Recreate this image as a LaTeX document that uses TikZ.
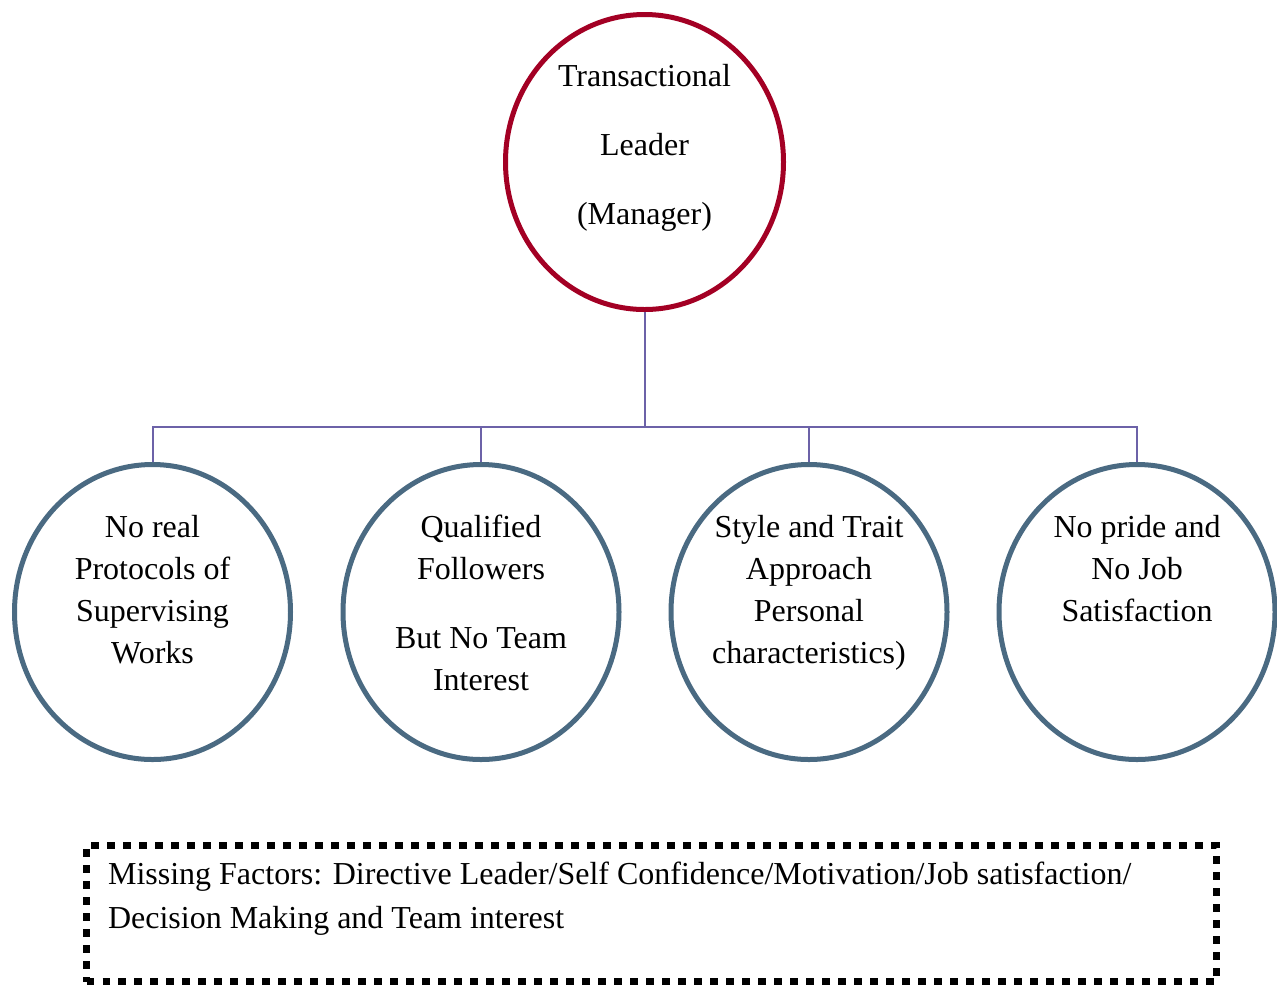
\documentclass[tikz,border=0pt]{standalone}
\usepackage{fontspec}
\setmainfont{Liberation Serif}
\usepackage{tikz}
\usetikzlibrary{shapes,positioning}
\usepackage{xcolor}
\definecolor{leadred}{RGB}{163,0,36}
\definecolor{factorblue}{RGB}{74,106,130}
\definecolor{linkpurple}{RGB}{108,98,168}
\tikzstyle{link} = [line width=0.04cm,color=linkpurple]
\tikzstyle{leader} = [ellipse, draw=leadred, line width=0.1cm, minimum width=5.56cm, minimum height=5.9cm, inner sep=0pt]
\tikzstyle{factor} = [ellipse, draw=factorblue, line width=0.1cm, minimum width=5.52cm, minimum height=5.9cm, inner sep=0pt]
\tikzstyle{leadtext} = [align=center, inner sep=0pt, font=\fontsize{18.2}{39.3}\selectfont]
\tikzstyle{factortext} = [align=center, inner sep=0pt, font=\fontsize{18.2}{23.9}\selectfont]
\tikzstyle{missbox} = [rectangle, draw=black, line width=0.15cm, dash pattern=on 0.15cm off 0.17cm, minimum width=22.6cm, minimum height=2.72cm]

\begin{document}
\begin{tikzpicture}
    \useasboundingbox (0,0) rectangle (25.54,-19.76);
    % Leader
    \node[leader] (lead) at (12.89,-3.24) {};
    \node[leadtext, below=1.03cm of lead.north] (leadlbl) {Transactional\\Leader\\(Manager)};

    % Factor circles
    \node[factor] (f1) at (3.05,-12.24) {};
    \node[factor] (f2) at (9.62,-12.24) {};
    \node[factor] (f3) at (16.18,-12.24) {};
    \node[factor] (f4) at (22.74,-12.24) {};
    \node[factortext, below=1.05cm of f1.north] (f1lbl) {No real\\Protocols of\\Supervising\\Works};
    \node[factortext, below=1.05cm of f2.north] (f2lbl) {Qualified\\Followers\\[0.54cm]But No Team\\Interest};
    \node[factortext, below=1.05cm of f3.north] (f3lbl) {Style and Trait\\Approach\\Personal\\characteristics)};
    \node[factortext, below=1.05cm of f4.north] (f4lbl) {No pride and\\No Job\\Satisfaction};

    % Tree lines
    \coordinate (bus) at (12.89,-8.54);
    \foreach \f in {f1,f2,f3,f4}
        \draw[link] (lead.south) -- (bus) -| (\f.north);

    % Missing factors
    \node[missbox] (missing) at (13.03,-18.27) {};
    \node[align=left, inner sep=0pt, font=\fontsize{18.2}{25}\selectfont, below right=0.39cm and 0.5cm of missing.north west] (misslbl) {Missing Factors: Directive Leader/Self Confidence/Motivation/Job satisfaction/\\Decision Making and Team interest};
\end{tikzpicture}
\end{document}
